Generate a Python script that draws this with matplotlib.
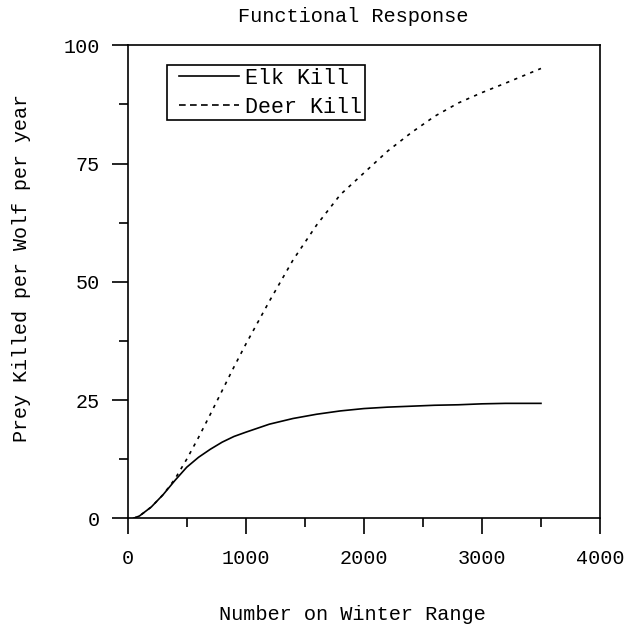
import matplotlib
matplotlib.use("Agg")
import matplotlib.pyplot as plt
from matplotlib.lines import Line2D
from matplotlib.legend_handler import HandlerLine2D
from matplotlib.ticker import MultipleLocator

# ---- data ----
number = [50, 100, 200, 300, 400, 500, 600, 700, 800, 900, 1000, 1200, 1400,
          1600, 1800, 2000, 2200, 2400, 2600, 2800, 3000, 3200, 3500]
elk_kill = [0.0, 0.5, 2.4, 5.0, 8.0, 10.8, 12.9, 14.6, 16.1, 17.3, 18.2, 19.9,
            21.1, 22.0, 22.7, 23.2, 23.5, 23.7, 23.9, 24.0, 24.2, 24.3, 24.3]
deer_kill = [0.0, 0.5, 2.4, 5.0, 8.3, 12.5, 17.1, 22.0, 27.0, 32.0, 36.8, 45.9,
             54.6, 62.0, 68.4, 73.0, 77.6, 81.5, 85.0, 87.8, 90.0, 92.0, 95.1]
series_labels = ["Elk Kill", "Deer Kill"]
x_ticks = [0, 1000, 2000, 3000, 4000]
y_ticks = [0, 25, 50, 75, 100]
title = "Functional Response"
x_label = "Number on Winter Range"
y_label = "Prey Killed per Wolf per year"

FONT = "Liberation Mono"
plt.rcParams["font.family"] = [FONT, "DejaVu Sans Mono"]

W, H = 636, 632
fig = plt.figure(figsize=(W / 100, H / 100), dpi=100)
ax = fig.add_axes([127.7 / W, 1 - 518.3 / H, (600 - 127.7) / W, (518.3 - 45.3) / H])

lw = 1.2
ax.plot(number, elk_kill, color="black", lw=lw, solid_joinstyle="round")
ax.plot(number, deer_kill, color="black", lw=lw, linestyle=(0, (2, 3.2)))

ax.set_xlim(0, 4000)
ax.set_ylim(0, 100)
ax.set_xticks(x_ticks)
ax.set_yticks(y_ticks)
ax.set_xticklabels([str(v) for v in x_ticks])
ax.set_yticklabels([str(v) for v in y_ticks])
ax.xaxis.set_minor_locator(MultipleLocator(500))
ax.yaxis.set_minor_locator(MultipleLocator(12.5))

ax.tick_params(which="major", direction="out", length=11.8, width=1.2,
               labelsize=14.5, color="black")
ax.tick_params(which="minor", direction="out", length=6.2, width=1.2)
ax.tick_params(axis="x", which="major", pad=10)
ax.tick_params(axis="y", which="major", pad=8.5)
ax.tick_params(top=False, right=False, which="both")
for s in ax.spines.values():
    s.set_linewidth(1.2)
    s.set_color("black")

# texts
fig.text(353 / W, 1 - 17 / H, title, ha="center", va="center", fontsize=14.6)
fig.text(352 / W, 1 - 615 / H, x_label, ha="center", va="center", fontsize=14.6)
fig.text(22 / W, 1 - 268 / H, y_label, ha="center", va="center",
         rotation=90, fontsize=14.4)

handles = [Line2D([], [], color="black", lw=lw),
           Line2D([], [], color="black", lw=lw, linestyle=(0, (4, 2.6)))]
leg = ax.legend(handles, series_labels, loc="upper left",
                bbox_to_anchor=((166.7 - 127.7) / 472.3, (518.3 - 65) / 473),
                borderaxespad=0, fancybox=False, framealpha=1,
                edgecolor="black", fontsize=15.6, handlelength=3.2,
                handletextpad=0.3, borderpad=0.12, labelspacing=0.38,
                handler_map={Line2D: HandlerLine2D(xpad=0.47)})
leg.get_frame().set_linewidth(1.2)

fig.savefig("out.png", dpi=100)
